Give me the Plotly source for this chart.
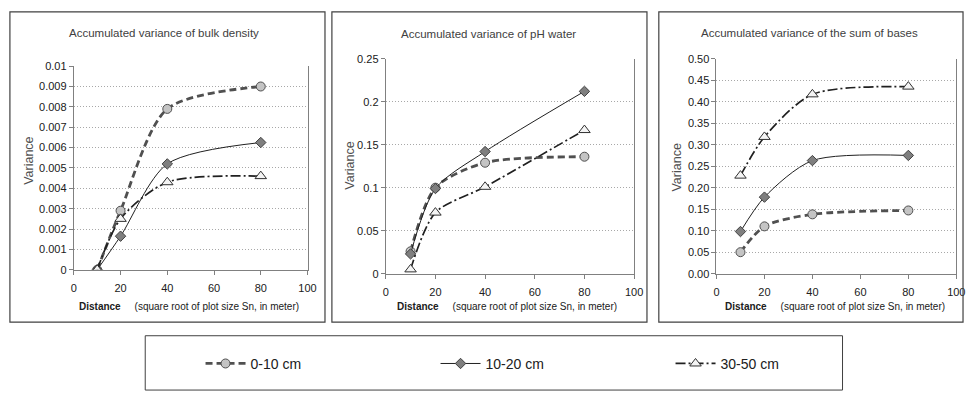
import plotly.graph_objects as go

W, H = 974, 398

# ---------------- data ----------------
distance = [10, 20, 40, 80]
x_ticks = [0, 20, 40, 60, 80, 100]
depths = ["0-10 cm", "10-20 cm", "30-50 cm"]

bulk_0_10 = [0.0, 0.0029, 0.0079, 0.0090]
bulk_10_20 = [0.0, 0.00165, 0.0052, 0.00625]
bulk_30_50 = [0.0, 0.0025, 0.0043, 0.0046]

ph_0_10 = [0.026, 0.100, 0.129, 0.136]
ph_10_20 = [0.023, 0.099, 0.142, 0.212]
ph_30_50 = [0.005, 0.071, 0.101, 0.167]

bases_0_10 = [0.050, 0.110, 0.138, 0.147]
bases_10_20 = [0.098, 0.178, 0.263, 0.275]
bases_30_50 = [0.228, 0.318, 0.417, 0.435]

titles = ["Accumulated variance of bulk density",
          "Accumulated variance of pH water",
          "Accumulated variance of the sum of bases"]
y_ranges = [[0, 0.01], [0, 0.25], [0, 0.5]]
y_dticks = [0.001, 0.05, 0.05]
y_formats = ["", "", ".2f"]
y_label = "Variance"
x_label = "<b>Distance</b>     (square root of plot size Sn, in meter)"

panels = [
    [bulk_0_10, bulk_10_20, bulk_30_50],
    [ph_0_10, ph_10_20, ph_30_50],
    [bases_0_10, bases_10_20, bases_30_50],
]

# ---------------- styles / layout ----------------
SANS = "Liberation Sans, Arial, sans-serif"

styles = [
    dict(line=dict(color="#505050", width=2.8, dash="7px,4px"),
         marker=dict(symbol="circle", size=9, color="#c4c4c4",
                     line=dict(color="#505050", width=1))),
    dict(line=dict(color="#202020", width=1),
         marker=dict(symbol="diamond", size=8, color="#7f7f7f",
                     line=dict(color="#404040", width=1))),
    dict(line=dict(color="#202020", width=1.7, dash="10px,3px,2px,3px"),
         marker=dict(symbol="triangle-up", size=10, color="#f4f4f4",
                     line=dict(color="#303030", width=1))),
]

# plot areas in pixels: (x0, x1, ytop, ybottom)
plot_px = [(71.7, 308.3, 62, 272), (387.5, 639, 54.3, 276), (722.4, 965.2, 54.3, 276)]
# panel frames in pixels
frame_px = [(7, 326, 6, 326), (333, 652, 6, 326), (664, 972, 6, 326)]
title_pos = [(163, 28), (492, 29), (817, 28)]
xlabel_pos = [(188, 310), (510, 310), (842, 310)]
ylabel_pos = [(27, 160), (351, 165), (682, 167)]

fx = lambda p: p / W
fy = lambda p: 1 - p / H

fig = go.Figure()
layout = dict(width=W, height=H, autosize=False,
              margin=dict(l=0, r=0, t=0, b=0),
              paper_bgcolor="white", plot_bgcolor="white",
              font=dict(family=SANS, size=11, color="#202020"),
              showlegend=True)

shapes = []
annotations = []
for i, series in enumerate(panels):
    sfx = "" if i == 0 else str(i + 1)
    for j, vals in enumerate(series):
        fig.add_trace(go.Scatter(
            x=distance, y=vals, mode="lines+markers", name=depths[j],
            line=dict(shape="spline", smoothing=0.8, **styles[j]["line"]),
            marker=styles[j]["marker"],
            xaxis="x" + sfx, yaxis="y" + sfx,
            showlegend=(i == 0), legendrank=j,
        ))
    x0, x1, yt, yb = plot_px[i]
    layout["xaxis" + sfx] = dict(
        domain=[fx(x0), fx(x1)], anchor="y" + sfx, range=[0, 100],
        tickvals=x_ticks, ticks="outside", ticklen=4, tickcolor="#808080",
        showline=True, linecolor="#808080", linewidth=1,
        showgrid=False, zeroline=False,
        tickfont=dict(family=SANS, size=11, color="#202020"),
        ticklabelstandoff=4,
    )
    layout["yaxis" + sfx] = dict(
        domain=[fy(yb), fy(yt)], anchor="x" + sfx, range=y_ranges[i],
        dtick=y_dticks[i], tick0=0, tickformat=y_formats[i],
        ticks="outside", ticklen=4, tickcolor="#808080",
        showline=True, linecolor="#808080", linewidth=1, mirror=True,
        showgrid=True, gridcolor="#a8a8a8", griddash="1px,2px", gridwidth=1,
        zeroline=False,
        tickfont=dict(family=SANS, size=11, color="#202020"),
    )
    fx0, fx1, fyt, fyb = frame_px[i]
    shapes.append(dict(type="rect", xref="paper", yref="paper",
                       x0=fx(fx0), x1=fx(fx1), y0=fy(fyb), y1=fy(fyt),
                       line=dict(color="#404040", width=1.2)))
    annotations.append(dict(text=titles[i], xref="paper", yref="paper",
                            x=fx(title_pos[i][0]), y=fy(title_pos[i][1]),
                            xanchor="center", yanchor="middle", showarrow=False,
                            font=dict(family=SANS, size=11.5, color="#404040")))
    annotations.append(dict(text=x_label, xref="paper", yref="paper",
                            x=fx(xlabel_pos[i][0]), y=fy(xlabel_pos[i][1]),
                            xanchor="center", yanchor="middle", showarrow=False,
                            font=dict(family=SANS, size=10, color="#202020")))
    annotations.append(dict(text=y_label, xref="paper", yref="paper",
                            x=fx(ylabel_pos[i][0]), y=fy(ylabel_pos[i][1]),
                            xanchor="center", yanchor="middle", showarrow=False,
                            textangle=-90,
                            font=dict(family=SANS, size=12.5, color="#505050")))

# legend box
shapes.append(dict(type="rect", xref="paper", yref="paper",
                   x0=fx(144), x1=fx(850), y0=fy(396), y1=fy(340),
                   line=dict(color="#404040", width=1)))

layout["shapes"] = shapes
layout["annotations"] = annotations
layout["legend"] = dict(orientation="h", x=fx(200), y=fy(369),
                        xanchor="left", yanchor="middle",
                        entrywidthmode="pixels", entrywidth=180,
                        itemwidth=40, bgcolor="rgba(0,0,0,0)",
                        font=dict(family=SANS, size=14, color="#202020"),
                        traceorder="normal")
fig.update_layout(**layout)
fig.write_html("out.html",
               config={"displayModeBar": False, "staticPlot": False},
               post_script="document.body.style.margin='0px';"
                           "document.body.style.overflow='hidden';")
